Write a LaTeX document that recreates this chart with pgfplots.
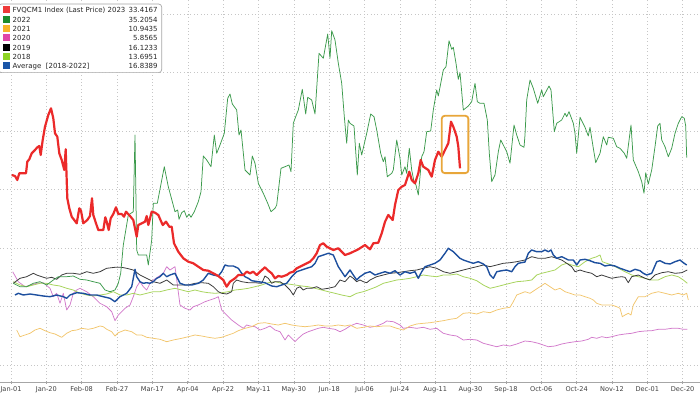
\documentclass[border=0pt]{standalone}
\usepackage{pgfplots}
\pgfplotsset{compat=1.18}
\usepackage{pgfplotstable}
\usepackage{fontspec}
\setmainfont{DejaVu Sans}
\definecolor{cRed}{HTML}{EB2A2A}
\definecolor{cGreen}{HTML}{3C9A4C}
\definecolor{cOrange}{HTML}{F2C66E}
\definecolor{cPink}{HTML}{D27ACB}
\definecolor{cBlack}{HTML}{3A3A3A}
\definecolor{cYG}{HTML}{A8D45E}
\definecolor{cBlue}{HTML}{1D4F9E}
\definecolor{lRed}{HTML}{EE3A3A}
\definecolor{lGreen}{HTML}{1E8C2E}
\definecolor{lOrange}{HTML}{F7B52A}
\definecolor{lPink}{HTML}{E046A8}
\definecolor{lBlack}{HTML}{000000}
\definecolor{lYG}{HTML}{8ED424}
\definecolor{lBlue}{HTML}{1A56A8}
\definecolor{cBox}{HTML}{E8A63A}

% readings: px = horizontal position, py = vertical position (converted to trading days / index level below)
\pgfplotstableread{
px py
11.7 175
15 176
17.3 180
19.3 173.3
23.3 173.3
26 173.3
27.3 161.7
29.3 159.3
31.7 153.3
35 150
37.3 147.3
39.3 146
40.7 155
42.7 140
45 126.7
48.3 115
51 108.3
53.3 118.3
55 133.3
57.3 136.7
59.3 153.3
61.7 160
64.3 170
65.7 149.3
67.3 198.3
69.3 208.3
71.7 216.7
76.7 223.3
79.3 208.3
81 210.7
83.3 223.3
87.3 220
90 216
92 198.3
93.3 215
96 223.3
98.3 230
103.3 230
105.3 217.3
106.7 221.7
108.7 230
110.7 218.3
113.3 214
116 207.3
118.3 214
121.7 214
124 216.7
126 211.7
130 216
133.3 220
136.7 236.7
138.3 225
141.7 223.3
145 221.7
146.7 216
148.3 225
151.7 211.7
155 212.7
158.3 215
162.7 225
166 221.7
169.3 226.7
171.7 226.7
174 243.3
178.3 251.7
183.3 258.3
188.3 261.7
193.3 263.3
198.3 266.7
203.3 270
208.3 270.7
213.3 273.3
218.3 276
223.3 280
226.7 286.7
230 281.7
235 278.3
238.3 275
243.3 275
246.7 271.7
250 273.3
253.3 271.7
256.7 275
260 271.7
265 267.3
268.3 270.7
271.7 273.3
275 278.3
278.3 276
281.7 276.7
286.7 275
290 272.7
293.3 271.7
296.7 268.3
300 266.7
303.3 265
306.7 263.3
310 261.7
313.3 258.3
316.7 253.3
320 245
323.3 243.3
326.7 246.7
330 248.3
333.3 250
338.3 248.3
341.7 251.7
345 255
350 253.3
358.3 249.3
365 245
370 249.3
373.3 243.3
378.3 242.7
381.7 233.3
385 221.7
388.3 215
392.7 220
395 205
398.3 190
401.7 186.7
405 185
409.3 171.7
411.7 180
415 183.3
418.3 173.3
420.7 160
423.3 166.7
428.3 170
431.7 176.7
435 160
438.3 151.7
441.7 156.7
445 150
448.3 143.3
451 121.7
453.3 126.7
456.7 136.7
458.3 146.7
460 168.3
}\tRed

\pgfplotstableread{
px py
13.3 283.3
20 286.7
26.7 286.7
33.3 283.3
40 281.7
46.7 285
53.3 280
58.3 276.7
66.7 276.7
73.3 276
80 279.3
86.7 280
93.3 281.7
100 283.3
105 290
110 291.7
115 290
118.3 283.3
120.7 273.3
123.3 245
128.3 215
133.3 211.7
135 135
136.7 250
138.3 255
146.7 255
148.3 265
151.7 240
153.3 203.3
157.3 203.3
164.3 166.7
168.3 186.7
175 211.7
177.7 210
179 219.3
181.7 212.7
184.3 210.7
186.7 217.3
189 214
191 217.3
194.3 211.7
198.3 201.7
201 191.7
203.3 156
206.7 160
211 166.7
214.3 135
216.7 153.3
220 145
224.3 133.3
227.7 98.3
230 94
232.3 104
236.7 110
239 135
241 130
245 170
250 175
252.3 156
255 163.3
258.3 183.3
263.3 193.3
267.7 203.3
271 211.7
275 208.3
276.7 205
281 168.3
285 166.7
289 165
291 171.7
293.3 123.3
295.7 116.7
298.3 110
302.3 89.3
305.7 114
307.7 97.3
311.7 100
315 114
319 53.3
323.3 58.3
327.7 34
330 58.3
331.7 30.7
335 40
338.3 63.3
341.7 83.3
344.3 116.7
346.7 143.3
348.3 120
350 123.3
354 126
357.3 175
359.3 143.3
361.7 155
366.7 133.3
370.7 114
374 116.7
376.7 130
380.7 153.3
383.3 161.7
385 156.7
387.3 176.7
391.7 173.3
393.3 170
396.7 140
400 158.3
401.7 175
405 166.7
406.7 173.3
409.3 148.3
411.7 170
414 181.7
416 185
418.3 195
420 176.7
421.7 156.7
424 151.7
426.7 131.7
430.7 131
433.3 110
436.7 90
438.3 96
443.3 70
446 66.7
449 40.7
451.7 49.3
453.3 47.3
456 63.3
458.3 79.3
460 72.7
463.3 110
468.3 106
471.7 101.7
475 83.3
477.3 101.7
480 103.3
484 103.3
487.3 120
489.3 153.3
491.7 181.7
495 175
498.3 151.7
500.7 140
503.3 145
506.7 151.7
510 163.3
514 125
516.7 135
520 145
524 147.3
525 135
526.7 100
530 80
533.3 88.3
537.7 103.3
541.7 90
543.3 96.7
549 86
551 90
554.3 131.7
556.7 123.3
561.7 120
565 113.3
566.7 116.7
569 111.7
573.3 123.3
575 133.3
576.7 153.3
580 117.3
585 127.3
588.3 136
590 127.3
593.3 148.3
595.7 162.7
600 153.3
603.3 136.7
606.7 145
608.3 137.3
613.3 138.3
616.7 146.7
620 148.3
624.3 153.3
626.7 158.3
631 125
633.3 160
638.3 171.7
641.7 181.7
644 193.3
645.7 172.7
648.3 184
651.7 170
655 146.7
657.7 126
660 123.3
661.7 140
665 146.7
668.3 156.7
671.7 148.3
675 133.3
678.3 123.3
681.7 116.7
684.3 118.3
685.7 126
686.7 157.7
}\tGreen

\pgfplotstableread{
px py
16.7 330
20 336.7
25 335
30 333.3
35 330
40 328.3
45 330.7
50 332.7
55 334
61.7 337.3
66.7 333.3
71.7 330.7
76.7 330
81.7 328.3
88.3 329.3
93.3 328.3
100 326
103.3 326.7
106.7 329.3
111.7 331.7
115 336
118.3 332.7
125 330
131.7 331.7
136.7 335
141.7 335
146.7 337.3
153.3 338.3
160 339.3
166.7 341.7
173.3 340
181.7 338.3
188.3 336.7
195 335
201.7 336
208.3 337.3
215 338.3
221.7 337.3
228.3 335
233.3 333.3
238.3 330.7
245 328.3
251.7 326.7
258.3 323.3
265 322.7
271.7 324
278.3 325
285 323.3
291.7 325
298.3 326
305 326.7
311.7 326
318.3 325
325 326
331.7 326
338.3 325
345 326
350 325
356.7 328.3
363.3 327.3
370 326
376.7 326.7
383.3 326
390 326
396.7 328.3
403.3 330
410 326
416.7 324
423.3 323.3
430 322.7
436.7 321.7
443.3 320.7
450 319.3
456.7 318.3
463.3 313.3
470 312.7
476.7 314
483.3 311.7
490 312.7
496.7 310
503.3 308.3
510 307.3
513.3 301.7
516.7 295
525 291.7
530 293.3
535 290
540 286.7
545 283.3
550 286.7
555 290
560 288.3
565 291.7
570 293.3
575 295
580 295
585 296.7
590 298.3
593.3 300
596.7 303.3
601.7 305
606.7 305
611.7 305
616.7 306.7
620 308.3
622.3 316.7
625 315
628.3 313.3
631 315
633.3 305
638.3 296.7
645 296.7
651.7 293.3
658.3 291.7
665 293.3
671.7 295
678.3 293.3
683.3 295
686.7 293.3
688.3 300
}\tOrange

\pgfplotstableread{
px py
12.7 271.7
18.3 281.7
25 286.7
31.7 285
36.7 283.3
43.3 282.7
50 288.3
53.3 296.7
56.7 293.3
60 303.3
63.3 293.3
66.7 310
70 305
73.3 293.3
76.7 290
80 288.3
86.7 291.7
93.3 296.7
100 303.3
106.7 306.7
111.7 311.7
115 320.7
118.3 315
125 308.3
130 305
133.3 296.7
136.7 286.7
140 281.7
143.3 286.7
146.7 290
150 283.3
153.3 280
158.3 276.7
163.3 273.3
166.7 266.7
170 270
175 266.7
180 305
185 308.3
190 310
193.3 306.7
198.3 305
205 301.7
210 300
215 298.3
218.3 296.7
221.7 310
226.7 315
231.7 320
238.3 325
243.3 328.3
246.7 325
250 326
255 326.7
260 330
265 328.3
270 326
275 330
280 331.7
285 340
288.3 335
291.7 338.3
295 341.7
298.3 338.3
303.3 334
308.3 331.7
313.3 330
318.3 328.3
323.3 327.3
328.3 328.3
335 329.3
340 331.7
345 329.3
350 326
356.7 323.3
363.3 325
370 327.3
376.7 326
383.3 323.3
386.7 321
393.3 321.7
400 325
403.3 328.3
410 327.3
416.7 328.3
423.3 327.3
430 329.3
436.7 328.3
443.3 333.3
450 335
456.7 336
463.3 340
470 339.3
476.7 340
483.3 343.3
490 345
496.7 346.7
503.3 345
510 346
516.7 344
525 341
531.7 341.7
538.3 343.3
543.3 345
548.3 346.7
555 346
561.7 344
568.3 342.7
575 341.7
581.7 341
588.3 339.3
591.7 337.3
596.7 338.3
601.7 336.7
606.7 337.7
611.7 336.7
618.3 335
625 334
631.7 333.3
638.3 331.7
645 331
651.7 330.7
658.3 329.3
665 329.3
671.7 328.3
678.3 328.3
683.3 329.3
687.3 329.3
}\tPink

\pgfplotstableread{
px py
13.3 283.3
20 278.3
26.7 276.7
33.3 273.3
36.7 275
41.7 276.7
46.7 278.3
51.7 277.3
56.7 279.3
61.7 275
66.7 273.3
73.3 273.3
80 274.3
86.7 271.7
93.3 273.3
100 271.7
106.7 268.3
115 267.3
121.7 267.3
126.7 268.3
133.3 270
140 275
146.7 278.3
153.3 281.7
160 283.3
166.7 280
173.3 285
181.7 285
188.3 285
195 283.3
201.7 282.7
208.3 283.3
213.3 286.7
218.3 291.7
221.7 293.3
226.7 294
231.7 291.7
233.3 283.3
236.7 280
241.7 281.7
248.3 282.7
255 282.7
261.7 283.3
265 276
268.3 278.3
271.7 283.3
275 281.7
280 281.7
285 285
290 290
293.3 295
296.7 288.3
300 286.7
303.3 290
306.7 288.3
311.7 288.3
316.7 286.7
321.7 289.3
328.3 288.3
335 286.7
340 280
345 281.7
350 276
353.3 278.3
356.7 281.7
360 280
363.3 281.7
366.7 282.7
370 280
376.7 276.7
383.3 275
390 273.3
396.7 272.7
403.3 271.7
410 270.7
416.7 270
423.3 268.3
430 266.7
436.7 268.3
443.3 271.7
450 273.3
456.7 271.7
463.3 270
470 268.3
476.7 266.7
483.3 265
490 266.7
496.7 265
503.3 263.3
510 262.7
516.7 261.7
525 260
531.7 256.7
538.3 258.3
545 258.3
551.7 256.7
556.7 258.3
561.7 260
566.7 263.3
571.7 266.7
575 271.7
580 270
585 271.7
591.7 273.3
596.7 276.7
601.7 275
606.7 276.7
611.7 278.3
616.7 277.3
621.7 276.7
625 277.3
628.3 282.7
631.7 276.7
638.3 275
645 278.3
650 280
655 275
661.7 272.7
668.3 271.7
675 273.3
681.7 272.7
687.3 270
}\tBlack

\pgfplotstableread{
px py
13.3 281.7
20 285
26.7 286.7
33.3 285
40 283.3
46.7 283.3
53.3 285
60 286
66.7 288.3
73.3 290
80 293.3
86.7 295
93.3 296
100 295
106.7 294
113.3 291.7
120 295
126.7 295
133.3 293.3
140 295
146.7 293.3
153.3 291.7
160 291.7
166.7 290
175 288.3
181.7 290
188.3 291.7
195 290
201.7 291.7
208.3 292.7
215 293.3
221.7 292.7
228.3 291.7
235 290
241.7 289.3
248.3 288.3
255 286.7
261.7 285
268.3 282.7
275 281.7
281.7 283.3
288.3 284
295 285
301.7 286
308.3 286.7
315 288.3
321.7 290
328.3 291.7
335 293.3
341.7 295
350 296.7
356.7 293.3
363.3 291.7
370 289.3
376.7 286.7
383.3 283.3
390 281.7
396.7 280
403.3 279.3
410 278.3
416.7 276.7
423.3 275
430 276
436.7 276.7
443.3 275
450 275
456.7 274
463.3 276.7
470 278.3
476.7 280.7
483.3 285
490 288.3
496.7 286.7
503.3 285
510 283.3
516.7 281.7
525 281
531.7 280
536.7 275
541.7 273.3
548.3 271.7
555 270
561.7 265
566.7 263.3
571.7 265
578.3 266.7
585 261.7
591.7 258.3
596.7 256.7
600 255
602.3 261.7
606.7 263.3
611.7 265
618.3 268.3
625 271.7
631.7 275
638.3 276.7
645 278.3
651.7 280
658.3 280
665 276.7
671.7 275
678.3 276.7
683.3 280
687.3 283.3
}\tYG

\pgfplotstableread{
px py
15 295
18.3 293.3
23.3 295
30 294
36.7 295
43.3 296
50 296.7
56.7 295
63.3 296.7
66.7 298.3
70 295
76.7 292.7
83.3 293.3
90 295
96.7 295
103.3 296.7
110 298.3
115 301.7
120 296.7
126.7 293.3
131.7 286.7
135 269.3
136.7 276.7
140 281.7
143.3 283.3
146.7 282.7
150 283.3
153.3 281.7
156.7 278.3
160 276.7
163.3 273.3
166.7 276.7
170 275
175 273.3
180 283.3
185 285
191.7 285
198.3 283.3
203.3 280
208.3 273.3
213.3 275
218.3 276
221.7 271.7
225 265
228.3 266
233.3 266
238.3 268.3
241.7 273.3
245 276.7
248.3 278.3
251.7 280.7
258.3 281.7
265 282.7
271.7 286
276.7 286.7
281.7 285
286.7 283.3
291.7 276.7
296.7 271.7
301.7 270
306.7 268.3
311.7 266.7
315 263.3
318.3 256.7
323.3 255
328.3 253.3
333.3 255
338.3 266.7
341.7 271.7
345 276.7
350 270
353.3 275
356.7 280
360 276.7
365 273.3
370 271.7
375 275
380 273.3
385 271.7
390 273.3
395 270.7
400 275
405 271.7
410 273.3
415 271.7
418.3 278.3
421.7 271.7
425 266.7
430 265
435 263.3
440 260
445 253.3
448.3 248.3
453.3 251.7
456.7 255
460 258.3
463.3 260
468.3 261.7
473.3 263.3
478.3 261.7
483.3 264
486.7 266.7
490 275
493.3 278.3
496.7 271.7
501.7 270.7
506.7 270
511.7 271.7
515 266.7
518.3 263.3
525 262
528.3 253.3
531.7 250
536.7 251.7
541.7 251.7
545 250
548.3 251.7
551 250
553.3 255
556.7 258.3
561.7 256.7
565 258.3
568.3 260
573.3 260
576.7 265
580 260
585 259.3
590 260.7
595 262.7
600 263.3
605 266
610 265
615 266
620 268.3
625 270
630 271.7
635 269.3
640 270.7
643.3 273.3
646.7 275
651.7 273.3
656.7 261.7
660 260.7
665 263.3
670 264
675 261.7
680 260
683.3 262.7
686.7 265
}\tBlue

\begin{document}
\begin{tikzpicture}
\begin{axis}[
  scale only axis,
  width=700pt, height=382pt,
  xmin=-4.045, xmax=253.38,
  ymin=-2.906, ymax=62.393,
  axis x line*=bottom,
  axis y line*=left,
  y axis line style={draw=none},
  x axis line style={draw=gray!70, line width=0.8pt},
  xtick={0,13,26,39,52,65,78,91,104,117,130,143,156,169,182,195,208,221,234,247},
  xticklabels={Jan-01,Jan-20,Feb-08,Feb-27,Mar-17,Apr-04,Apr-22,May-11,May-30,Jun-18,Jul-06,Jul-24,Aug-11,Aug-30,Sep-18,Oct-06,Oct-24,Nov-12,Dec-01,Dec-20},
  xticklabel style={font=\fontsize{6.6}{7}\selectfont, text=black!75, inner sep=0pt, anchor=north, yshift=-2.5pt},
  ytick={0,10,20,30,40,50,60},
  yticklabels={},
  major y tick style={draw=none},
  major x tick style={draw=gray!70, line width=0.6pt},
  major tick length=3pt,
  tick align=center,
  xmajorgrids, ymajorgrids,
  grid style={gray!45, line width=0.5pt, dash pattern=on 0.8pt off 2.6pt},
  clip=true,
]
\pgfplotsset{every axis plot/.append style={line join=round}}
\addplot[color=cPink, line width=0.75pt] table[x expr={(\thisrow{px}-11)/35.35*13}, y expr={(365-\thisrow{py})/5.85}] {\tPink};
\addplot[color=cOrange, line width=0.75pt] table[x expr={(\thisrow{px}-11)/35.35*13}, y expr={(365-\thisrow{py})/5.85}] {\tOrange};
\addplot[color=cYG, line width=0.8pt] table[x expr={(\thisrow{px}-11)/35.35*13}, y expr={(365-\thisrow{py})/5.85}] {\tYG};
\addplot[color=cBlack, line width=0.8pt] table[x expr={(\thisrow{px}-11)/35.35*13}, y expr={(365-\thisrow{py})/5.85}] {\tBlack};
\addplot[color=cGreen, line width=0.75pt] table[x expr={(\thisrow{px}-11)/35.35*13}, y expr={(365-\thisrow{py})/5.85}] {\tGreen};
\addplot[color=cBlue, line width=1.4pt] table[x expr={(\thisrow{px}-11)/35.35*13}, y expr={(365-\thisrow{py})/5.85}] {\tBlue};
\addplot[color=cRed, line width=2.2pt] table[x expr={(\thisrow{px}-11)/35.35*13}, y expr={(365-\thisrow{py})/5.85}] {\tRed};
\draw[cBox, line width=1.8pt, rounded corners=3pt] (axis cs:158.4,42.6) rectangle (axis cs:168.2,32.8);
\end{axis}
\node[draw=gray!70, line width=0.7pt, fill=white, rounded corners=3pt, anchor=south east, inner xsep=4pt, inner ysep=2.5pt, align=left, font=\fontsize{7}{9.3}\selectfont, text=black!85] at (162pt,309pt) {%
\makebox[155pt][l]{\textcolor{lRed}{\rule[-0.6pt]{7pt}{7pt}}\hspace{3pt}FVQCM1 Index (Last Price) 2023\hfill 33.4167}\\
\makebox[155pt][l]{\textcolor{lGreen}{\rule[-0.6pt]{7pt}{7pt}}\hspace{3pt}2022\hfill 35.2054}\\
\makebox[155pt][l]{\textcolor{lOrange}{\rule[-0.6pt]{7pt}{7pt}}\hspace{3pt}2021\hfill 10.9435}\\
\makebox[155pt][l]{\textcolor{lPink}{\rule[-0.6pt]{7pt}{7pt}}\hspace{3pt}2020\hfill 5.8565}\\
\makebox[155pt][l]{\textcolor{lBlack}{\rule[-0.6pt]{7pt}{7pt}}\hspace{3pt}2019\hfill 16.1233}\\
\makebox[155pt][l]{\textcolor{lYG}{\rule[-0.6pt]{7pt}{7pt}}\hspace{3pt}2018\hfill 13.6951}\\
\makebox[155pt][l]{\textcolor{lBlue}{\rule[-0.6pt]{7pt}{7pt}}\hspace{3pt}Average\ \ [2018-2022]\hfill 16.8389}};
\pgfresetboundingbox
\useasboundingbox (0,-12pt) rectangle (700pt,382pt);
\end{tikzpicture}
\end{document}
